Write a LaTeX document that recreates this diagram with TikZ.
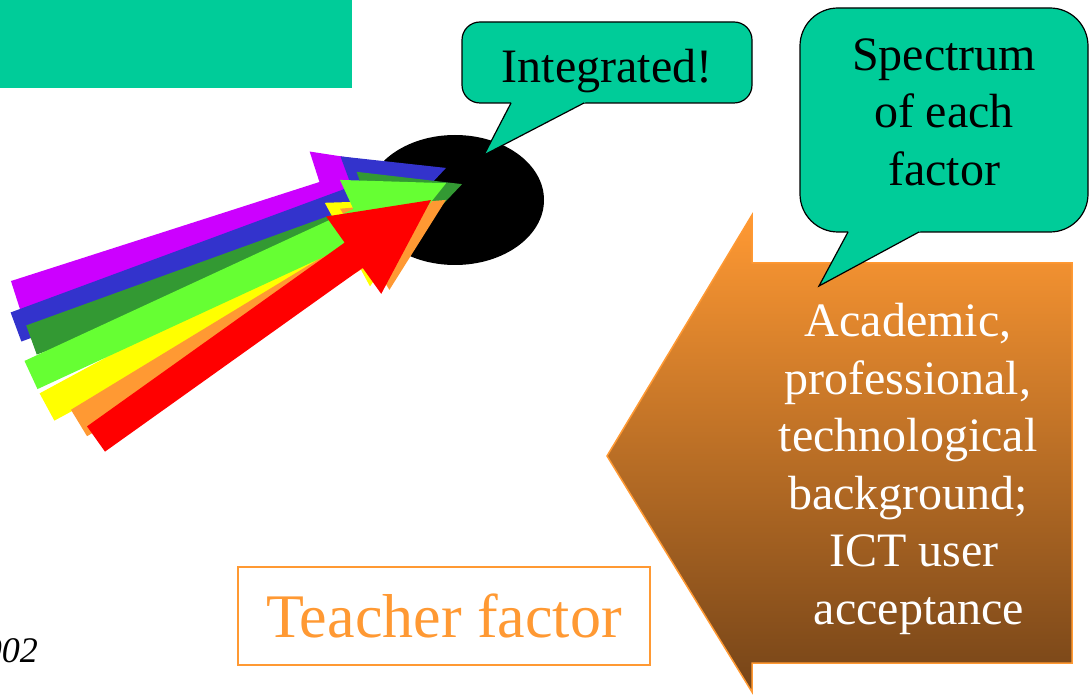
\documentclass[tikz,border=0pt]{standalone}
\usepackage{fontspec}
\setmainfont{Liberation Serif}
\definecolor{tealc}{RGB}{0,204,153}
\definecolor{violetc}{RGB}{204,0,255}
\definecolor{bluec}{RGB}{51,51,204}
\definecolor{darkgreenc}{RGB}{51,153,51}
\definecolor{limec}{RGB}{102,255,51}
\definecolor{yellowc}{RGB}{255,255,0}
\definecolor{orangec}{RGB}{255,153,51}
\definecolor{redc}{RGB}{255,0,0}
\definecolor{brownc}{RGB}{117,68,24}
\begin{document}
\begin{tikzpicture}[x=1pt,y=1pt,
  bubble/.style={fill=tealc, draw=black, line width=1.2},
  bigtext/.style={font=\fontsize{48}{57.5}\selectfont, align=center, inner sep=0}]
\useasboundingbox (0,0) rectangle (1092,694);

% Title bar, top left
\fill[tealc] (0,606) rectangle (352,694);

% Black target
\fill[black] (455,494) ellipse (89 and 65);

% Beams: colour / tail x / tail y / angle / length
\foreach \c/\tx/\ty/\a/\l in {violetc/15.7/398.2/17.8/419, bluec/16/367/20.3/458.5,
    darkgreenc/31.5/354/19.9/457.9, yellowc/47/287/28.4/436.5, orangec/79/271/31.3/429.4,
    limec/31/319/24.8/457.3, redc/96/255/35.5/411.5} {
  \fill[\c, shift={(\tx,\ty)}, rotate=\a] (0,-15.5) -- ({\l-95},-15.5) -- ({\l-95},-47.5)
    -- (\l,0) -- ({\l-95},47.5) -- ({\l-95},15.5) -- (0,15.5) -- cycle;
}

% Integrated! bubble
\draw[bubble, rounded corners=18] (462,591) rectangle (752,672);
\fill[tealc] (512,593) -- (484,539) -- (587.8,593) -- cycle;
\draw[line width=1.2] (511,591) -- (484,539) -- (584,591);
\node[bigtext, anchor=base] (integ) at (607,611) {Integrated!};

% Big orange arrow
\draw[draw=orangec, line width=1.5, top color=orangec, bottom color=brownc]
  (1072,431) -- (752,431) -- (752,479) -- (607,238) -- (752,2) -- (752,31) -- (1072,31) -- cycle;
\node[bigtext, text=white] (teach) at (908,225)
  {Academic,\\professional,\\technological\\background;\\\hspace*{12pt}ICT user\\\hspace*{22pt}acceptance};

% Spectrum bubble
\draw[bubble, rounded corners=38] (800,462) rectangle (1088,686);
\fill[tealc] (849.1,464) -- (819,408) -- (922.7,464) -- cycle;
\draw[line width=1.2] (848,462) -- (819,408) -- (919,462);
\node[bigtext] (spec) at (944,582) {Spectrum\\of each\\factor};

% Caption box and year
\node[draw=orangec, line width=1.5, text=orangec, font=\fontsize{62}{70}\selectfont,
  minimum width=412, minimum height=98, inner sep=0] (factor) at (444,78) {Teacher factor};
\node[font=\fontsize{36}{40}\selectfont\itshape, anchor=base east, inner sep=0] (year) at (38,32) {002};

\end{tikzpicture}
\end{document}
